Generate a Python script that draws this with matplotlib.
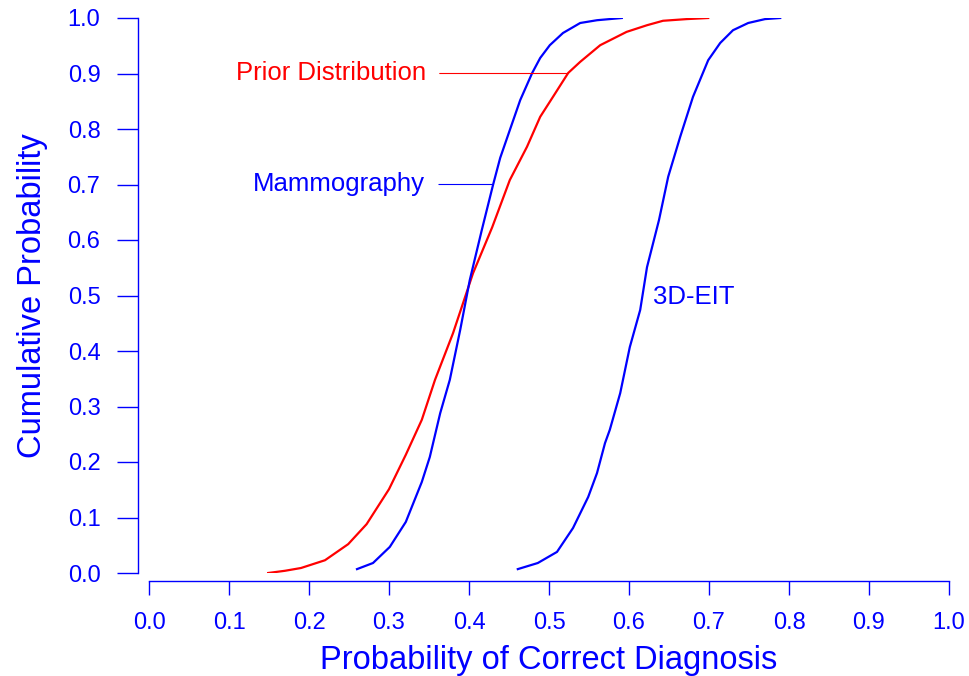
import matplotlib.pyplot as plt

plt.rcParams['font.family'] = ['Liberation Sans', 'DejaVu Sans']

# cumulative curves
prior_x = [0.149, 0.17, 0.19, 0.22, 0.249, 0.272, 0.30, 0.321, 0.341, 0.3575, 0.38,
           0.405, 0.429, 0.451, 0.4725, 0.489, 0.505, 0.524, 0.539, 0.564, 0.597,
           0.6225, 0.6425, 0.672, 0.699]
prior_y = [0.0, 0.004, 0.009, 0.023, 0.052, 0.088, 0.151, 0.213, 0.276, 0.348, 0.432,
           0.54, 0.623, 0.708, 0.768, 0.822, 0.858, 0.901, 0.921, 0.951, 0.975,
           0.987, 0.995, 0.998, 1.0]

mammo_x = [0.26, 0.28, 0.301, 0.321, 0.341, 0.351, 0.364, 0.376, 0.389, 0.401,
           0.416, 0.43, 0.439, 0.451, 0.464, 0.479, 0.489, 0.501, 0.5175, 0.539,
           0.56, 0.591]
mammo_y = [0.007, 0.018, 0.047, 0.092, 0.164, 0.209, 0.288, 0.348, 0.438, 0.528,
           0.618, 0.699, 0.748, 0.798, 0.852, 0.901, 0.928, 0.951, 0.973, 0.991,
           0.996, 1.0]

eit_x = [0.461, 0.486, 0.51, 0.53, 0.549, 0.56, 0.57, 0.576, 0.589, 0.601, 0.614,
         0.6225, 0.6375, 0.649, 0.664, 0.68, 0.699, 0.714, 0.73, 0.749, 0.77, 0.789]
eit_y = [0.007, 0.018, 0.038, 0.081, 0.137, 0.18, 0.234, 0.258, 0.324, 0.407, 0.474,
         0.551, 0.636, 0.714, 0.786, 0.858, 0.924, 0.955, 0.978, 0.991, 0.998, 1.0]

ticks = [0.0, 0.1, 0.2, 0.3, 0.4, 0.5, 0.6, 0.7, 0.8, 0.9, 1.0]
tick_labels = ['%.1f' % t for t in ticks]

fig = plt.figure(figsize=(9.69, 6.76), dpi=100)
ax = fig.add_axes([149 / 969, 103 / 676, 800 / 969, 555 / 676])

ax.plot(prior_x, prior_y, color='#ff0000', lw=1.6)
ax.plot(mammo_x, mammo_y, color='#0000ff', lw=1.6)
ax.plot(eit_x, eit_y, color='#0000ff', lw=1.6)

# labels with leader lines
ax.annotate('Prior Distribution', xy=(0.524, 0.9), xytext=(0.346, 0.9),
            color='#ff0000', fontsize=18.5, ha='right', va='center',
            arrowprops=dict(arrowstyle='-', color='#ff0000', lw=0.8,
                            shrinkA=8, shrinkB=0))
ax.annotate('Mammography', xy=(0.43, 0.7), xytext=(0.345, 0.7),
            color='#0000ff', fontsize=18.5, ha='right', va='center',
            arrowprops=dict(arrowstyle='-', color='#0000ff', lw=0.8,
                            shrinkA=8, shrinkB=0))
ax.text(0.63, 0.497, '3D-EIT', color='#0000ff', fontsize=18.5, ha='left', va='center')

ax.set_xlim(0, 1)
ax.set_ylim(0, 1)
ax.set_xticks(ticks)
ax.set_xticklabels(tick_labels)
ax.set_yticks(ticks)
ax.set_yticklabels(tick_labels)

for s in ['top', 'right']:
    ax.spines[s].set_visible(False)
ax.spines['left'].set_position(('outward', 8))
ax.spines['bottom'].set_position(('outward', 6))
for s in ['left', 'bottom']:
    ax.spines[s].set_color('#0000ff')
    ax.spines[s].set_linewidth(1)
    ax.spines[s].set_bounds(0, 1)

ax.tick_params(axis='y', colors='#0000ff', labelsize=17, length=15, width=1, pad=12)
ax.tick_params(axis='x', colors='#0000ff', labelsize=17, length=10, width=1, pad=12)
ax.set_xlabel('Probability of Correct Diagnosis', color='#0000ff', fontsize=23.5, labelpad=8)
ax.set_ylabel('Cumulative Probability', color='#0000ff', fontsize=23.5, labelpad=14)

fig.savefig('out.png', dpi=100)
